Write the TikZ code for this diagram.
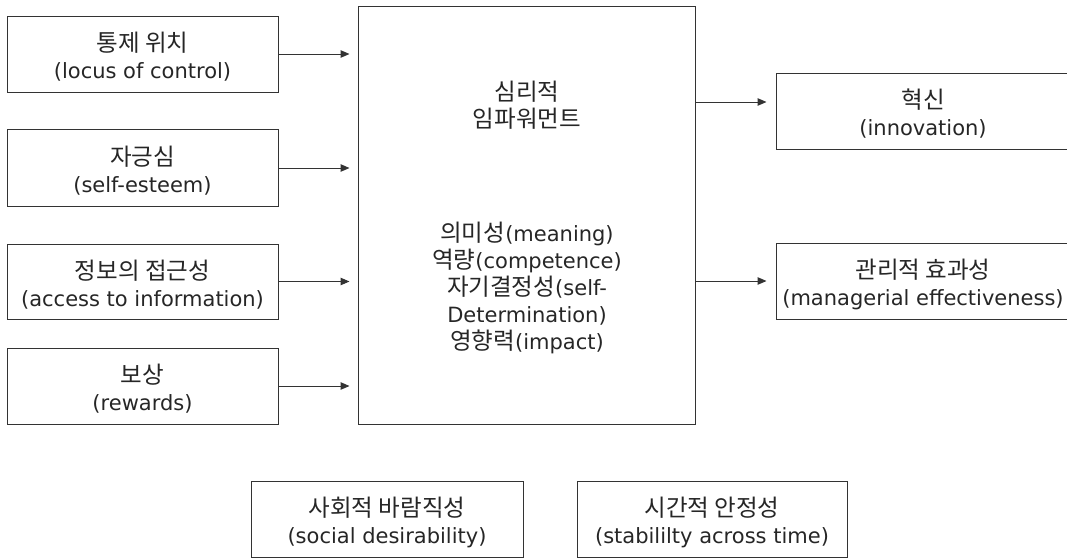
\documentclass[tikz,border=0pt]{standalone}
\usepackage{fontspec}
\setmainfont{DejaVu Sans}
\newfontfamily\kr[Scale=1.12]{Noto Sans CJK KR}
\usetikzlibrary{arrows.meta}
\begin{document}
\begin{tikzpicture}[x=1pt,y=-1pt,
  txt/.style={align=center, inner sep=0pt, font=\fontsize{21}{27}\selectfont, text=black!85},
  box/.style={draw=black!80, line width=1pt, rectangle, inner sep=0pt},
  arr/.style={draw=black!80, line width=1pt, -{Triangle[length=9pt,width=7.5pt]}}]
\useasboundingbox (0,0) rectangle (1067,557);
\clip (0,0) rectangle (1067,557);
% left boxes
\node[box, minimum width=271pt, minimum height=76pt] (b1) at (142.5,54) {};
\node[box, minimum width=271pt, minimum height=77pt] (b2) at (142.5,168) {};
\node[box, minimum width=271pt, minimum height=75pt] (b3) at (142.5,281.5) {};
\node[box, minimum width=271pt, minimum height=76pt] (b4) at (142.5,386) {};
\node[txt, yshift=-3pt] (tb1) at (b1.center) {{\kr 통제 위치}\\(locus of control)};
\node[txt, yshift=-3pt] (tb2) at (b2.center) {{\kr 자긍심}\\(self-esteem)};
\node[txt, yshift=-3pt] (tb3) at (b3.center) {{\kr 정보의 접근성}\\(access to information)};
\node[txt, yshift=-3pt] (tb4) at (b4.center) {{\kr 보상}\\(rewards)};
% central box
\node[box, minimum width=337pt, minimum height=418pt] (c) at (526.5,215) {};
\node[txt] (c1) at (527,105.5) {\kr 심리적\\\kr 임파워먼트};
\node[txt] (c2) at (527,287.5) {{\kr 의미성}(meaning)\\{\kr 역량}(competence)\\{\kr 자기결정성}(self-\\Determination)\\{\kr 영향력}(impact)};
% right boxes
\node[box, minimum width=294pt, minimum height=76pt] (r1) at (923,111) {};
\node[box, minimum width=294pt, minimum height=76pt] (r2) at (923,281) {};
\node[txt, yshift=-3pt] (tr1) at (r1.center) {{\kr 혁신}\\(innovation)};
\node[txt, yshift=-3pt] (tr2) at (r2.center) {{\kr 관리적 효과성}\\(managerial effectiveness)};
% bottom boxes
\node[box, minimum width=272pt, minimum height=76pt] (s1) at (387,519) {};
\node[box, minimum width=270pt, minimum height=76pt] (s2) at (712,519) {};
\node[txt, yshift=-3pt] (ts1) at (s1.center) {{\kr 사회적 바람직성}\\(social desirability)};
\node[txt, yshift=-3pt] (ts2) at (s2.center) {{\kr 시간적 안정성}\\(stabililty across time)};
% arrows in
\foreach \b in {b1,b2,b3,b4}
  \draw[arr] (\b.east) -- ([xshift=-8pt]\b.east -| c.west);
% arrows out
\coordinate (o1) at (c.east |- 0,102);
\coordinate (o2) at (c.east |- r2.west);
\draw[arr] (o1) -- ([xshift=-9pt]o1 -| r1.west);
\draw[arr] (o2) -- ([xshift=-9pt]r2.west);
\end{tikzpicture}
\end{document}
